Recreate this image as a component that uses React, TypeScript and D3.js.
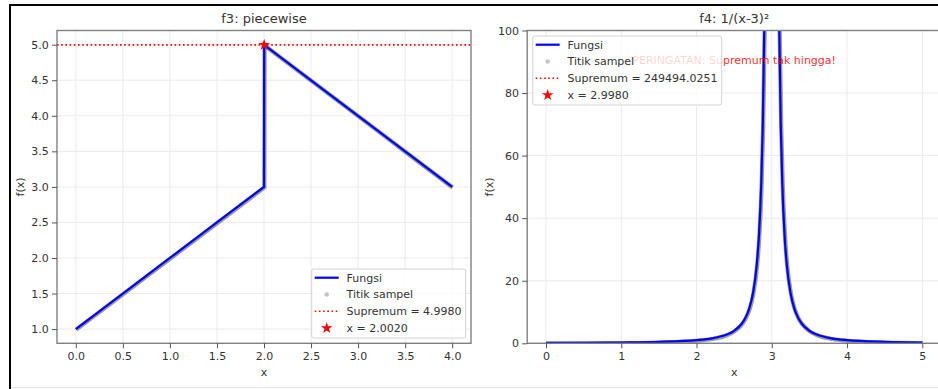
import React, { useRef, useEffect } from 'react';
import { select, scaleLinear, axisBottom, axisLeft, line, curveMonotoneX, curveLinear, symbol, symbolStar, format } from 'd3';

const W = 938;
const H = 389;
const FONT = 'DejaVu Sans, sans-serif';

// f3: piecewise (line knots)
const f3X = [0, 0.5, 1, 1.5, 2, 2.002, 2.5, 3, 3.5, 4];
const f3Y = [1, 1.5, 2, 2.5, 3, 4.998, 4.5, 4, 3.5, 3];
const f3SampleX = [0, 0.25, 0.5, 0.75, 1, 1.25, 1.5, 1.75, 2, 2.002, 2.25, 2.5, 2.75, 3, 3.25, 3.5, 3.75, 4];
const f3SampleY = [1, 1.25, 1.5, 1.75, 2, 2.25, 2.5, 2.75, 3, 4.998, 4.75, 4.5, 4.25, 4, 3.75, 3.5, 3.25, 3];
const f3Sup = 4.998;
const f3SupX = 2.002;
const f3XTicks = [0, 0.5, 1, 1.5, 2, 2.5, 3, 3.5, 4];
const f3YTicks = [1, 1.5, 2, 2.5, 3, 3.5, 4, 4.5, 5];
const f3Legend = ['Fungsi', 'Titik sampel', 'Supremum = 4.9980', 'x = 2.0020'];

// f4: 1/(x-3)^2
const f4X = [0, 0.5, 1, 1.5, 2, 2.2, 2.4, 2.5, 2.6, 2.65, 2.7, 2.75, 2.8, 2.83, 2.86, 2.88, 2.9, 2.92, 2.95, 2.998,
  3.002, 3.05, 3.08, 3.1, 3.12, 3.14, 3.17, 3.2, 3.25, 3.3, 3.35, 3.4, 3.5, 3.6, 3.8, 4, 4.5, 5];
const f4Y = [0.111, 0.16, 0.25, 0.444, 1, 1.56, 2.78, 4, 6.25, 8.16, 11.1, 16, 25, 34.6, 51, 69.4, 100, 156, 400, 249494,
  249494, 400, 156, 100, 69.4, 51, 34.6, 25, 16, 11.1, 8.16, 6.25, 4, 2.78, 1.56, 1, 0.444, 0.25];
const f4SampleX = f4X;
const f4SampleY = f4Y;
const f4Sup = 249494.0251;
const f4SupX = 2.998;
const f4XTicks = [0, 1, 2, 3, 4, 5];
const f4YTicks = [0, 20, 40, 60, 80, 100];
const f4Legend = ['Fungsi', 'Titik sampel', 'Supremum = 249494.0251', 'x = 2.9980'];

const panels = [
    {
        id: 'f3', title: 'f3: piecewise', left: 57, right: 471, xDomain: [-0.2, 4.2], yDomain: [0.8, 5.2],
        xTicks: f3XTicks, yTicks: f3YTicks, fmt: format('.1f'), curve: curveLinear,
        lx: f3X, ly: f3Y, sx: f3SampleX, sy: f3SampleY, sup: f3Sup, supX: f3SupX,
        legend: f3Legend, lgX: 311.7, lgY: 269, lgW: 154, lgH: 69, warn: false, ylabX: 23.5,
    },
    {
        id: 'f4', title: 'f4: 1/(x-3)²', left: 527.2, right: 941.1, xDomain: [-0.25, 5.25], yDomain: [0, 100],
        xTicks: f4XTicks, yTicks: f4YTicks, fmt: format('d'), curve: curveMonotoneX,
        lx: f4X, ly: f4Y, sx: f4SampleX, sy: f4SampleY, sup: f4Sup, supX: f4SupX,
        legend: f4Legend, lgX: 532.7, lgY: 36, lgW: 189, lgH: 69, warn: true, ylabX: 492.5,
    },
];

const TOP = 30.5;
const BOTTOM = 343.3;

function Panel({ p }: { p: any }) {
    const xRef = useRef<SVGGElement | null>(null);
    const yRef = useRef<SVGGElement | null>(null);
    const xScale = scaleLinear().domain(p.xDomain).range([p.left, p.right]);
    const yScale = scaleLinear().domain(p.yDomain).range([BOTTOM, TOP]);

    useEffect(() => {
        const xAxis: any = axisBottom(xScale).tickValues(p.xTicks).tickFormat(p.fmt).tickSize(5).tickSizeOuter(0).tickPadding(3.5);
        const yAxis: any = axisLeft(yScale).tickValues(p.yTicks).tickFormat(p.fmt).tickSize(5).tickSizeOuter(0).tickPadding(3.3);
        const gx = select(xRef.current).call(xAxis);
        const gy = select(yRef.current).call(yAxis);
        [gx, gy].forEach((g: any) => {
            g.select('.domain').remove();
            g.selectAll('line').attr('stroke', '#555').attr('stroke-width', 1);
            g.selectAll('text').attr('fill', '#333').style('font-size', '11px').style('font-family', FONT);
        });
    }, []);

    const pts = p.lx.map((x: number, i: number) => [x, p.ly[i]]);
    const spts = p.sx.map((x: number, i: number) => [x, p.sy[i]]);
    const path: any = line().x((d: any) => xScale(d[0])).y((d: any) => yScale(d[1])).curve(p.curve);
    const star = symbol().type(symbolStar).size(42)() as string;
    const cx = (p.left + p.right) / 2;
    const rowY = (i: number) => p.lgY + 8.7 + i * 16.8;
    const hx0 = p.lgX + 3;
    const hx1 = p.lgX + 27;

    return (
        <g>
            <defs>
                <clipPath id={'clip-' + p.id}>
                    <rect x={p.left} y={TOP} width={p.right - p.left} height={BOTTOM - TOP} />
                </clipPath>
            </defs>
            {/* grid */}
            <g stroke="#ebebeb" strokeWidth={1}>
                {p.xTicks.map((t: number) => (
                    <line key={'gx' + t} x1={xScale(t)} x2={xScale(t)} y1={TOP} y2={BOTTOM} />
                ))}
                {p.yTicks.map((t: number) => (
                    <line key={'gy' + t} x1={p.left} x2={p.right} y1={yScale(t)} y2={yScale(t)} />
                ))}
            </g>
            <g clipPath={`url(#clip-${p.id})`}>
                <line x1={p.left} x2={p.right} y1={yScale(p.sup)} y2={yScale(p.sup)} stroke="red" strokeWidth={1.6} strokeDasharray="1.6,2.6" />
                <path d={path(spts)} fill="none" stroke="#6e6e6e" strokeOpacity={0.7} strokeWidth={4.2} transform="translate(0.4,0.6)" />
                <path d={path(pts)} fill="none" stroke="#0000ff" strokeWidth={2.2} />
                <path d={star} transform={`translate(${xScale(p.supX)},${yScale(p.sup)})`} fill="red" />
            </g>
            {p.warn && (
                <text x={cx} y={63.5} textAnchor="middle" fill="red" fillOpacity={0.85} fontSize={11} fontFamily={FONT}>
                    PERINGATAN: Supremum tak hingga!
                </text>
            )}
            {/* spines */}
            <rect x={p.left} y={TOP} width={p.right - p.left} height={BOTTOM - TOP} fill="none" stroke="#808080" strokeWidth={1.4} />
            <g ref={xRef} transform={`translate(0,${BOTTOM})`} />
            <g ref={yRef} transform={`translate(${p.left},0)`} />
            <text x={cx} y={23} textAnchor="middle" fontSize={13} fill="#333" fontFamily={FONT}>{p.title}</text>
            <text x={cx} y={375.5} textAnchor="middle" fontSize={11} fill="#333" fontFamily={FONT}>x</text>
            <text transform={`translate(${p.ylabX},${(TOP + BOTTOM) / 2}) rotate(-90)`} textAnchor="middle" fontSize={11} fill="#333" fontFamily={FONT}>f(x)</text>
            {/* legend */}
            <g>
                <rect x={p.lgX} y={p.lgY} width={p.lgW} height={p.lgH} rx={2} fill="white" fillOpacity={0.8} stroke="#d4d4d4" strokeWidth={1} />
                <line x1={hx0} x2={hx1} y1={rowY(0)} y2={rowY(0)} stroke="#0000ff" strokeWidth={2.2} />
                <circle cx={(hx0 + hx1) / 2} cy={rowY(1)} r={2.3} fill="#c4c4c4" />
                <line x1={hx0} x2={hx1} y1={rowY(2)} y2={rowY(2)} stroke="red" strokeWidth={1.6} strokeDasharray="1.6,2.6" />
                <path d={star} transform={`translate(${(hx0 + hx1) / 2},${rowY(3)})`} fill="red" />
                {p.legend.map((t: string, i: number) => (
                    <text key={t} x={p.lgX + 34.8} y={rowY(i)} dy="0.36em" fontSize={11} fill="#333" fontFamily={FONT}>{t}</text>
                ))}
            </g>
        </g>
    );
}

export default function App() {
    return (
        <svg width={W} height={H} style={{ position: 'fixed', left: 0, top: 0, background: 'white' }}>
            <rect x={0} y={0} width={W} height={H} fill="white" />
            {panels.map((p) => (
                <Panel key={p.id} p={p} />
            ))}
            {/* screenshot frame */}
            <line x1={9} x2={W} y1={5} y2={5} stroke="#000" strokeWidth={2} />
            <line x1={10} x2={10} y1={4} y2={H} stroke="#000" strokeWidth={2} />
            <line x1={11} x2={W} y1={387.5} y2={387.5} stroke="#e6e6e6" strokeWidth={1} />
        </svg>
    );
}
